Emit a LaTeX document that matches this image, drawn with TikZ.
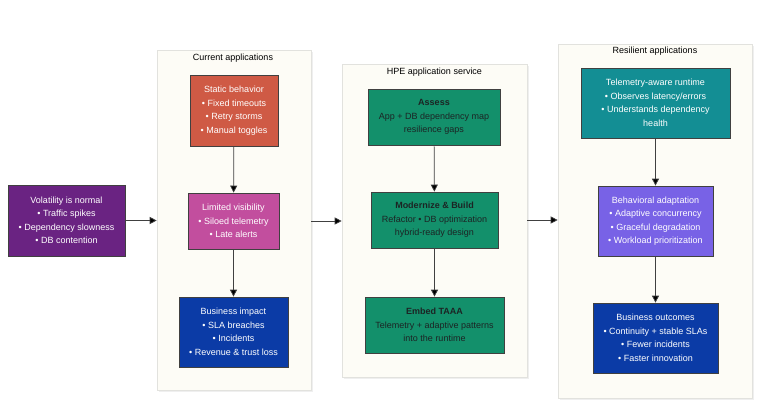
\documentclass[tikz,border=0pt]{standalone}
\usepackage{fontspec}
\setmainfont{Liberation Sans}
\usetikzlibrary{arrows.meta,shadows}
\definecolor{cpurple}{HTML}{6A2382}
\definecolor{cred}{HTML}{CF5A45}
\definecolor{cpink}{HTML}{C24E9E}
\definecolor{cblue}{HTML}{0B3BA6}
\definecolor{cgreen}{HTML}{13906B}
\definecolor{cteal}{HTML}{138E94}
\definecolor{cviolet}{HTML}{7862E6}
\definecolor{cpanel}{HTML}{FDFCF6}
\definecolor{cpanelb}{HTML}{E2E2DE}
\definecolor{cdark}{HTML}{1C2424}
\begin{document}
\begin{tikzpicture}[x=1pt,y=-1pt,
  panel/.style={draw=cpanelb,fill=cpanel,line width=0.6pt,inner sep=0pt,
     drop shadow={opacity=0.12,shadow xshift=1.5pt,shadow yshift=-1.5pt}},
  ptitle/.style={font=\fontsize{9}{11}\selectfont,text=black,inner sep=0pt},
  box/.style={draw=black!75,line width=0.7pt,inner sep=0pt,align=center,
     font=\fontsize{9}{13.5}\selectfont,text=white,
     drop shadow={opacity=0.18,shadow xshift=1pt,shadow yshift=-1pt}},
  gbox/.style={box,fill=cgreen,text=cdark},
  arr/.style={draw=black!75,line width=0.7pt,-{Triangle[length=7pt,width=7pt,fill=black]}}
]
\useasboundingbox[fill=white] (0,0) rectangle (758,402);

% panels
\node[panel,minimum width=154pt,minimum height=340pt] (p1) at (234,220) {};
\node[panel,minimum width=185pt,minimum height=313pt] (p2) at (434.5,220.5) {};
\node[panel,minimum width=194pt,minimum height=354pt] (p3) at (655,221) {};

\node[ptitle] (t1) at (233,58.5) {Current applications};
\node[ptitle] (t2) at (434.5,72) {HPE application service};
\node[ptitle] (t3) at (655,51.5) {Resilient applications};

% left
\node[box,fill=cpurple,minimum width=117pt,minimum height=71pt] (vol) at (66.5,220.5)
  {Volatility is normal\\• Traffic spikes\\• Dependency slowness\\• DB contention};

% panel 1
\node[box,fill=cred,minimum width=88pt,minimum height=71pt] (sta) at (234,110.5)
  {Static behavior\\• Fixed timeouts\\• Retry storms\\• Manual toggles};
\node[box,fill=cpink,minimum width=91pt,minimum height=56pt] (lim) at (233.5,221)
  {Limited visibility\\• Siloed telemetry\\• Late alerts};
\node[box,fill=cblue,minimum width=109pt,minimum height=70pt] (imp) at (233.5,332)
  {Business impact\\• SLA breaches\\• Incidents\\• Revenue \& trust loss};

% panel 2
\node[gbox,minimum width=132pt,minimum height=56pt] (ass) at (434,117)
  {\textbf{Assess}\\App + DB dependency map\\resilience gaps};
\node[gbox,minimum width=127pt,minimum height=56pt] (mod) at (434.5,220)
  {\textbf{Modernize \& Build}\\Refactor • DB optimization\\hybrid-ready design};
\node[gbox,minimum width=139pt,minimum height=56pt] (emb) at (434.5,325)
  {\textbf{Embed TAAA}\\Telemetry + adaptive patterns\\into the runtime};

% panel 3
\node[box,fill=cteal,minimum width=149pt,minimum height=70pt] (tel) at (655.5,103)
  {Telemetry-aware runtime\\• Observes latency/errors\\• Understands dependency\\health};
\node[box,fill=cviolet,minimum width=115pt,minimum height=70pt] (beh) at (655.5,221)
  {Behavioral adaptation\\• Adaptive concurrency\\• Graceful degradation\\• Workload prioritization};
\node[box,fill=cblue,minimum width=125pt,minimum height=70pt] (out) at (655.5,338)
  {Business outcomes\\• Continuity + stable SLAs\\• Fewer incidents\\• Faster innovation};

% arrows
\draw[arr] (vol.east) -- (p1.west |- vol.east);
\draw[arr] (p1.east |- lim.east) -- (p2.west |- lim.east);
\draw[arr] (p2.east |- mod.east) -- (p3.west |- mod.east);
\draw[arr] (sta) -- (lim);
\draw[arr] (lim) -- (imp);
\draw[arr] (ass) -- (mod);
\draw[arr] (mod) -- (emb);
\draw[arr] (tel) -- (beh);
\draw[arr] (beh) -- (out);
\end{tikzpicture}
\end{document}
